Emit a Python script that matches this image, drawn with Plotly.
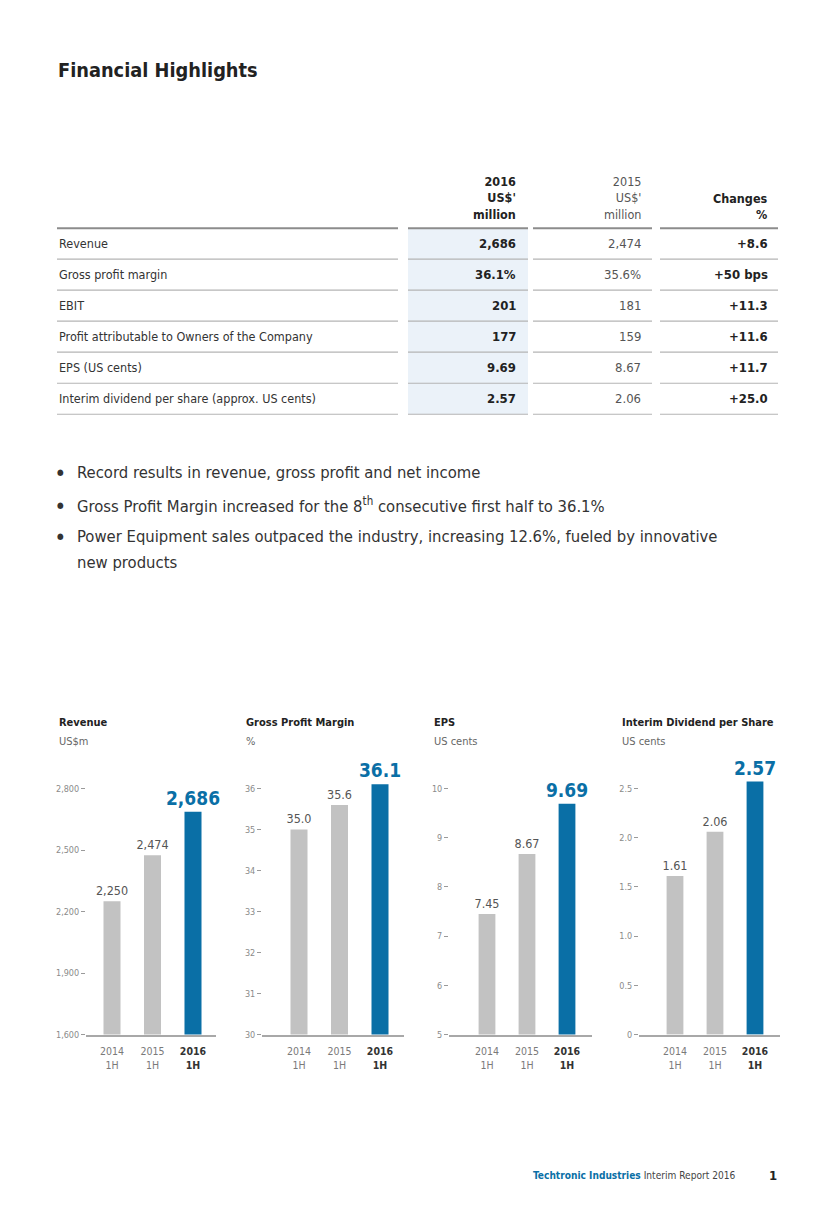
import plotly.graph_objects as go

# page is rendered with an 8px body margin, so the figure is offset by 8px;
# a small vertical correction compensates the observed rendering scale
OFF = 8
SY = 0.9952
W, H = 835 - OFF, 1208 - 2 * OFF
FONT = "DejaVu Sans Condensed, Liberation Sans Narrow, sans-serif"
BLUE = "#0a6fa6"
GREY_BAR = "#c2c2c2"

# ---------------- data ----------------
periods = ["2014 1H", "2015 1H", "2016 1H"]
period_ticks = ["2014<br>1H", "2015<br>1H", "<span style='color:#333333'><b>2016<br>1H</b></span>"]

revenue = [2250, 2474, 2686]
gross_margin = [35.0, 35.6, 36.1]
eps = [7.45, 8.67, 9.69]
dividend = [1.61, 2.06, 2.57]

revenue_ticks = [1600, 1900, 2200, 2500, 2800]
margin_ticks = [30, 31, 32, 33, 34, 35, 36]
eps_ticks = [5, 6, 7, 8, 9, 10]
dividend_ticks = [0, 0.5, 1.0, 1.5, 2.0, 2.5]
dividend_tick_text = ["0", "0.5", "1.0", "1.5", "2.0", "2.5"]

table_labels = ["Revenue", "Gross profit margin", "EBIT",
                "Profit attributable to Owners of the Company",
                "EPS (US cents)", "Interim dividend per share (approx. US cents)"]
col_2016 = ["2,686", "36.1%", "201", "177", "9.69", "2.57"]
col_2015 = ["2,474", "35.6%", "181", "159", "8.67", "2.06"]
col_change = ["+8.6", "+50 bps", "+11.3", "+11.6", "+11.7", "+25.0"]

bullets = ["Record results in revenue, gross profit and net income",
           "Gross Profit Margin increased for the 8<sup>th</sup> consecutive first half to 36.1%",
           "Power Equipment sales outpaced the industry, increasing 12.6%, fueled by innovative<br>new products"]


def px(x):
    return (x - OFF) / W


def py(y):
    return 1 - ((y - OFF) / SY) / H


fig = go.Figure()
annotations = []
shapes = []

# ---------------- charts ----------------
charts = [
    dict(title="Revenue", unit="US$m", vals=revenue, fmt=lambda v: f"{v:,}",
         ticks=revenue_ticks, ticktext=[f"{t:,}" for t in revenue_ticks],
         L=86, R=216, c0=112, c2=193, tx=57),
    dict(title="Gross Profit Margin", unit="%", vals=gross_margin, fmt=lambda v: f"{v:.1f}",
         ticks=margin_ticks, ticktext=[str(t) for t in margin_ticks],
         L=262, R=404, c0=299, c2=380, tx=244),
    dict(title="EPS", unit="US cents", vals=eps, fmt=lambda v: f"{v:.2f}",
         ticks=eps_ticks, ticktext=[str(t) for t in eps_ticks],
         L=449, R=592, c0=487, c2=567, tx=432),
    dict(title="Interim Dividend per Share", unit="US cents", vals=dividend, fmt=lambda v: f"{v:.2f}",
         ticks=dividend_ticks, ticktext=dividend_tick_text,
         L=639, R=780, c0=675, c2=755, tx=620),
]

BASE_Y, TOPTICK_Y, TOP_Y = 1034, 788, 760

for i, c in enumerate(charts):
    n = "" if i == 0 else str(i + 1)
    texts = [c["fmt"](v) for v in c["vals"]]
    texts[-1] = "<b>" + texts[-1] + "</b>"
    fig.add_trace(go.Bar(
        x=periods, y=c["vals"], xaxis="x" + n, yaxis="y" + n,
        marker=dict(color=[GREY_BAR, GREY_BAR, BLUE], line=dict(width=0)),
        width=0.42, text=texts, textposition="outside", cliponaxis=False,
        constraintext="none",
        textfont=dict(family=FONT, size=[12.5, 12.5, 19], color=["#555555", "#555555", BLUE]),
        hoverinfo="skip", showlegend=False,
    ))
    unit = (c["c2"] - c["c0"]) / 2
    xr = [(c["L"] - c["c0"]) / unit, (c["R"] - c["c0"]) / unit]
    lo, hi = c["ticks"][0], c["ticks"][-1]
    top = lo + (hi - lo) * (BASE_Y - TOP_Y) / (BASE_Y - TOPTICK_Y)
    fig.update_layout(**{
        "xaxis" + n: dict(domain=[px(c["L"]), px(c["R"])], anchor="y" + n, range=xr,
                          type="category", tickvals=periods, ticktext=period_ticks,
                          showline=True, linecolor="#a8a8a8", linewidth=1.5,
                          showgrid=False, zeroline=False, ticks="", ticklabelstandoff=6,
                          tickfont=dict(family=FONT, size=10.5, color="#7a7a7a"), fixedrange=True),
        "yaxis" + n: dict(domain=[py(BASE_Y), py(TOP_Y)], anchor="x" + n, range=[lo, top],
                          tickvals=c["ticks"], ticktext=c["ticktext"],
                          showline=False, showgrid=False, zeroline=False,
                          ticks="outside", ticklen=4, tickwidth=1, tickcolor="#9a9a9a",
                          tickfont=dict(family=FONT, size=9, color="#8a8a8a"), fixedrange=True),
    })
    annotations.append(dict(x=px(c["tx"]), y=py(722), xref="paper", yref="paper",
                            text="<b>" + c["title"] + "</b>", showarrow=False,
                            xanchor="left", yanchor="middle",
                            font=dict(family=FONT, size=11, color="#222222")))
    annotations.append(dict(x=px(c["tx"]), y=py(741.5), xref="paper", yref="paper",
                            text=c["unit"], showarrow=False, xanchor="left", yanchor="middle",
                            font=dict(family=FONT, size=11, color="#666666")))

# ---------------- title ----------------
annotations.append(dict(x=px(56), y=py(70), xref="paper", yref="paper",
                        text="<b>Financial Highlights</b>", showarrow=False,
                        xanchor="left", yanchor="middle",
                        font=dict(family=FONT, size=19.8, color="#222222")))

# ---------------- table ----------------
COL_X = [518, 643, 770]
HFONT = 12.5
annotations.append(dict(x=px(COL_X[0]), y=py(198), xref="paper", yref="paper",
                        text="<b>2016<br>US$'<br>million</b>", showarrow=False,
                        xanchor="right", yanchor="middle", align="right",
                        font=dict(family=FONT, size=HFONT, color="#222222")))
annotations.append(dict(x=px(COL_X[1]), y=py(198), xref="paper", yref="paper",
                        text="2015<br>US$'<br>million", showarrow=False,
                        xanchor="right", yanchor="middle", align="right",
                        font=dict(family=FONT, size=HFONT, color="#555555")))
annotations.append(dict(x=px(COL_X[2]), y=py(206), xref="paper", yref="paper",
                        text="<b>Changes<br>%</b>", showarrow=False,
                        xanchor="right", yanchor="middle", align="right",
                        font=dict(family=FONT, size=HFONT, color="#222222")))

SEGS = [(57, 398), (408, 528), (533, 652), (660, 778)]
HEADER_Y = 228
ROW_H = 31

shapes.append(dict(type="rect", xref="paper", yref="paper",
                   x0=px(408), x1=px(528), y0=py(HEADER_Y), y1=py(HEADER_Y + ROW_H * len(table_labels)),
                   fillcolor="#ebf2f9", line=dict(width=0), layer="below"))
for (a, b) in SEGS:
    shapes.append(dict(type="line", xref="paper", yref="paper", x0=px(a), x1=px(b),
                       y0=py(HEADER_Y), y1=py(HEADER_Y), line=dict(color="#8c8c8c", width=2)))

for r, lab in enumerate(table_labels):
    yc = HEADER_Y + ROW_H * r + ROW_H / 2
    yl = HEADER_Y + ROW_H * (r + 1)
    for (a, b) in SEGS:
        shapes.append(dict(type="line", xref="paper", yref="paper", x0=px(a), x1=px(b),
                           y0=py(yl), y1=py(yl), line=dict(color="#b4b4b4", width=1.2)))
    annotations.append(dict(x=px(57), y=py(yc), xref="paper", yref="paper", text=lab,
                            showarrow=False, xanchor="left", yanchor="middle",
                            font=dict(family=FONT, size=12.5, color="#333333")))
    annotations.append(dict(x=px(COL_X[0]), y=py(yc), xref="paper", yref="paper",
                            text="<b>" + col_2016[r] + "</b>", showarrow=False,
                            xanchor="right", yanchor="middle",
                            font=dict(family=FONT, size=13, color="#222222")))
    annotations.append(dict(x=px(COL_X[1]), y=py(yc), xref="paper", yref="paper",
                            text=col_2015[r], showarrow=False,
                            xanchor="right", yanchor="middle",
                            font=dict(family=FONT, size=13, color="#555555")))
    annotations.append(dict(x=px(COL_X[2]), y=py(yc), xref="paper", yref="paper",
                            text="<b>" + col_change[r] + "</b>", showarrow=False,
                            xanchor="right", yanchor="middle",
                            font=dict(family=FONT, size=13, color="#222222")))

# ---------------- bullets ----------------
BFONT = 16.5
bullet_y = [472, 505, 536]
LINE_GAP = 26
for b, yb in zip(bullets, bullet_y):
    annotations.append(dict(x=px(60), y=py(yb), xref="paper", yref="paper", text="●",
                            showarrow=False, xanchor="center", yanchor="middle",
                            font=dict(family=FONT, size=8.5, color="#333333")))
    for k, line in enumerate(b.split("<br>")):
        annotations.append(dict(x=px(75), y=py(yb + k * LINE_GAP), xref="paper", yref="paper",
                                text=line, showarrow=False, xanchor="left", yanchor="middle",
                                font=dict(family=FONT, size=BFONT, color="#333333")))

# ---------------- footer ----------------
annotations.append(dict(x=px(737), y=py(1175), xref="paper", yref="paper",
                        text="<span style='color:%s'><b>Techtronic Industries</b></span> Interim Report 2016" % BLUE,
                        showarrow=False, xanchor="right", yanchor="middle",
                        font=dict(family=FONT, size=10.1, color="#444444")))
annotations.append(dict(x=px(779), y=py(1175), xref="paper", yref="paper", text="<b>1</b>",
                        showarrow=False, xanchor="right", yanchor="middle",
                        font=dict(family=FONT, size=13, color="#222222")))

fig.update_layout(width=W, height=H, margin=dict(l=0, r=0, t=0, b=0),
                  paper_bgcolor="white", plot_bgcolor="white",
                  bargap=0.5, showlegend=False,
                  annotations=annotations, shapes=shapes,
                  font=dict(family=FONT))

fig.write_html("out.html")
